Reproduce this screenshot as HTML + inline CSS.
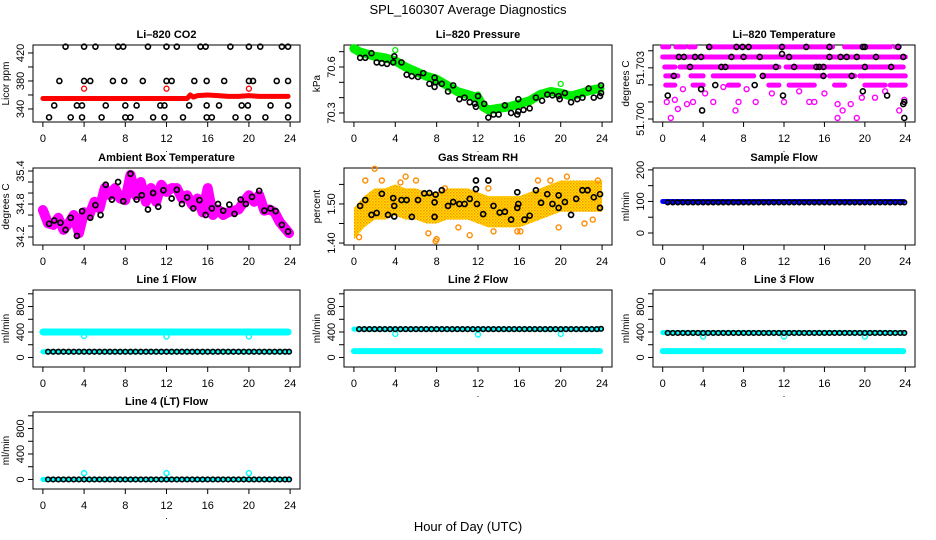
<!DOCTYPE html>
<html><head><meta charset="utf-8"><style>
html,body{margin:0;padding:0;background:#fff;}
svg{display:block;font-family:"Liberation Sans",sans-serif;}
</style></head><body>
<svg id="chart" width="936" height="540" viewBox="0 0 936 540">
<defs>
<pattern id="rhpat" width="3" height="3" patternUnits="userSpaceOnUse"><rect width="3" height="3" fill="#ffe000"/><rect width="1.5" height="1.5" fill="#ff9000"/><rect x="1.5" y="1.5" width="1.5" height="1.5" fill="#ffb000"/></pattern>
</defs>
<text x="468" y="14" text-anchor="middle" font-size="13">SPL_160307  Average Diagnostics</text>
<text x="468" y="531" text-anchor="middle" font-size="13">Hour of Day (UTC)</text>
</svg>
<script>
// ---------- data ----------
const xTicks = [0,4,8,12,16,20,24];
const flowH = [0.5,1,1.5,2,2.5,3,3.5,4,4.5,5,5.5,6,6.5,7,7.5,8,8.5,9,9.5,10,10.5,11,11.5,12,12.5,13,13.5,14,14.5,15,15.5,16,16.5,17,17.5,18,18.5,19,19.5,20,20.5,21,21.5,22,22.5,23,23.5,23.9];
const bandH = [0,2,4,6,8,10,12,14,16,18,20,22,23.8];

const co2BlackH = [2.2,4,5.1,7.3,7.8,10.2,12,13,15.3,15.8,18.2,20,21.1,23.2,23.8, 1.6,4,4.6,6.8,7.9,9.7,12,12.5,14.7,15.9,17.6,20,20.4,22.7,23.8, 1.1,3.3,3.8,6.1,8,9.1,11.4,11.8,14.2,15.9,17.1,19.3,19.9,22.1,23.8, 0.6,2.7,3.8,5.7,8,8.5,10.7,11.8,13.6,15.9,16.4,18.7,19.9,21.6,23.8];
const co2BlackV = [429,429,429,429,429,429,429,429,429,429,429,429,429,429,429, 380,380,380,380,380,380,380,380,380,380,380,380,380,380,380, 345,345,345,345,345,345,345,345,345,345,345,345,345,345,345, 328,328,328,328,328,328,328,328,328,328,328,328,328,328,328];
const co2RedH = [0,2,4,6,8,10,12,14,14.3,14.6,15,16,17,18,19,20,21,22,23,23.8];
const co2RedV = [355,355,355,355,355,355,355,355,360,357,359,360,359,358,358,359,358,358,358,358];
const co2RedOutH = [4,12,20];
const co2RedOutV = [369,369,369];

const presGreenH = [0,0.5,1,2,3,4,5,6,7,8,9,10,11,12,12.5,13,14,15,16,17,18,19,20,21,22,23,23.8];
const presGreenV = [70.72,70.70,70.69,70.67,70.66,70.64,70.60,70.57,70.54,70.52,70.48,70.44,70.42,70.40,70.34,70.32,70.33,70.34,70.36,70.38,70.42,70.44,70.43,70.41,70.43,70.45,70.46];
const presGreenOutH = [4,12,20];
const presGreenOutV = [70.71,70.42,70.49];
const presBlackH = [0.6,1.1,1.7,2.2,2.7,3.2,3.8,3.9,4.6,5.1,5.6,6.2,6.7,7.3,7.8,7.9,7.8,8.5,9.1,9.6,10.2,10.7,11.2,11.7,11.8,12,12.6,13,13.5,14,14.6,15.2,15.8,15.9,15.9,16.4,17,17.6,18.2,18.7,19.2,19.8,19.9,20.4,21,21.6,22.1,22.7,23.2,23.8,23.9,23.9];
const presBlackV = [70.66,70.66,70.69,70.63,70.625,70.62,70.63,70.67,70.63,70.55,70.54,70.535,70.56,70.49,70.47,70.50,70.53,70.49,70.44,70.48,70.39,70.40,70.37,70.36,70.34,70.41,70.36,70.27,70.29,70.29,70.35,70.30,70.29,70.31,70.39,70.32,70.33,70.40,70.38,70.42,70.415,70.41,70.39,70.43,70.37,70.39,70.40,70.46,70.40,70.41,70.48,70.43];

const tempRowV = [51.70338,51.70291,51.70244,51.70202,51.70159];
const tempRowStart = [[0,1.3,2.6,4.5,18,23],[0],[0.2,1.7,12.2],[0.3,2.8,5,10,16.5,19.5],[0.3,3,6.5,10.5,12.5,17,20,22.5]];
const tempRowEnd = [[0.6,2.2,3.2,16.8,22.5,23.4],[24],[1.2,11.5,23.8],[1.5,4,9,16,19,24],[1.2,4,7.5,11.5,15,18,22,24]];
const tempMagOutH = [0.4,1.2,1.5,0.8,2.4,3,4.2,5,7.2,7.5,8.3,9.2,10.8,12,14.5,15,17.3,17.3,17.8,18.6,19.2,19.7,21,23.4,23.9,2,6,13.5,16,22];
const tempMagOutV = [51.7008,51.7009,51.70047,51.70005,51.7007,51.7008,51.7012,51.7008,51.7004,51.7008,51.7014,51.7008,51.7012,51.7008,51.7008,51.7008,51.7007,51.70005,51.7004,51.7007,51.70005,51.701,51.701,51.7004,51.7009,51.7014,51.7015,51.7013,51.7012,51.7013];
const tempBlackH = [4.6,7.3,7.9,8.5,11.8,14.2,16.5,19.8,20,23.3, 1.6,2.1,3.2,3.8,6.8,8,9.6,11.8,12.5,16.5,17.6,18.2,19.2,21.1,23.8, 2.7,5.8,6.2,11.2,13,15.2,15.5,15.9,20,22.6, 1.1,9.9,15.9,18.7, 5.2,9.1, 3.8,19.8,0.5,11.9,22.2,23.9,23.8,3.9,23.9];
const tempBlackV = [51.70338,51.70338,51.70338,51.70338,51.70338,51.70338,51.70338,51.70338,51.70338,51.70338, 51.70291,51.70291,51.70291,51.70291,51.70291,51.70291,51.70291,51.70305,51.70291,51.70291,51.70291,51.70291,51.70291,51.70291,51.70291, 51.70244,51.70244,51.70244,51.70244,51.70244,51.70244,51.70244,51.70244,51.70244,51.70244, 51.70202,51.70202,51.70202,51.70202, 51.70159,51.70159, 51.7014,51.7013,51.7011,51.7011,51.7011,51.7008,51.7007,51.7004,51.70005];

const ambMagH = [0,0.5,1,1.5,2,2.5,3,3.5,4,4.5,5,5.5,6,6.5,7,7.5,8,8.5,9,9.5,10,10.5,11,11.5,12,12.5,13,13.5,14,14.5,15,15.5,16,16.5,17,17.5,18,18.5,19,19.5,20,20.5,21,21.5,22,22.5,23,23.5,23.9];
const ambMagV = [34.69,34.45,34.42,34.55,34.33,34.45,34.6,34.27,34.65,34.6,34.84,34.72,35.09,34.96,35.09,34.9,34.87,35.33,34.96,35.2,34.84,35.09,34.84,35.15,35.02,35.09,35.09,34.9,34.96,34.78,34.9,34.65,35.09,34.6,34.7,34.6,34.65,34.68,34.7,34.84,34.96,34.84,34.96,34.68,34.7,34.65,34.47,34.36,34.27];
const ambBlackH = [0.6,1.1,1.7,2.2,2.7,3.3,3.8,4.6,5.1,5.6,6.1,6.7,7.3,7.8,8.5,9.1,9.6,10.2,10.7,11.2,11.7,12.5,13,13.5,14,14.6,15.2,15.8,16.4,17,17.5,18.1,18.6,19.2,19.7,20.3,21,21.5,22.1,22.6,23.2,23.8];
const ambBlackV = [34.44,34.5,34.46,34.33,34.55,34.22,34.67,34.55,34.78,34.6,35.15,34.88,35.2,34.85,35.35,34.88,34.96,34.7,35.0,34.75,35.05,34.9,35.06,34.8,34.92,34.72,34.87,34.6,34.72,34.8,34.68,34.79,34.62,34.88,34.8,34.93,35.04,34.68,34.72,34.67,34.42,34.3];

const rhBandH = [0,1,2,3,4,5,6,7,8,9,10,11,12,13,14,15,16,17,18,19,20,21,22,23,24];
const rhBandV = [1.45,1.48,1.50,1.50,1.51,1.50,1.50,1.49,1.49,1.50,1.50,1.50,1.49,1.48,1.48,1.48,1.48,1.49,1.50,1.51,1.52,1.52,1.52,1.52,1.52];
const rhOutH = [0.5,1.1,2,2.7,4.5,5,6,7.2,7.9,8,8.8,10.1,11.2,13,13.5,15.8,16.1,17.8,19,19.8,20.6,22.3,23.1,23.6];
const rhOutV = [1.415,1.56,1.59,1.56,1.555,1.57,1.56,1.425,1.405,1.41,1.54,1.44,1.42,1.54,1.43,1.43,1.43,1.56,1.56,1.44,1.57,1.45,1.46,1.56];
const rhBlackH = [0.6,1.1,1.7,2.2,2.7,3.3,3.8,3.9,3.9,4.6,5.1,5.6,6.2,6.8,7.3,7.9,7.8,7.8,8.5,9.1,9.6,10.2,10.7,11.2,11.8,11.8,11.9,12.5,13,13.5,14.1,14.6,15.2,15.8,15.8,15.9,16.5,17,17.6,18.1,18.7,19.2,19.8,19.8,20.4,21,21.5,22.1,22.6,23.2,23.8,23.8];
const rhBlackV = [1.495,1.51,1.472,1.477,1.526,1.472,1.515,1.495,1.468,1.51,1.51,1.467,1.51,1.527,1.528,1.524,1.504,1.467,1.535,1.495,1.505,1.50,1.50,1.513,1.538,1.56,1.50,1.474,1.56,1.495,1.478,1.48,1.46,1.49,1.53,1.50,1.46,1.47,1.535,1.503,1.525,1.50,1.522,1.49,1.505,1.472,1.513,1.535,1.535,1.517,1.525,1.49];

const sampleBlueV = [100,100,100,100,100,100,100,100,100,100,100,100,100];
const sampleBlackV = [97,97,97,97,97,97,97,97,97,97,97,97,97,97,97,97,97,97,97,97,97,97,97,97,97,97,97,97,97,97,97,97,97,97,97,97,97,97,97,97,97,97,97,97,97,97,97,97];

const l1CyanHiV = [400,400,400,400,400,400,400,400,400,400,400,400,400];
const l1CyanLoV = [90,90,90,90,90,90,90,90,90,90,90,90,90];
const l1BlackV = [90,90,90,90,90,90,90,90,90,90,90,90,90,90,90,90,90,90,90,90,90,90,90,90,90,90,90,90,90,90,90,90,90,90,90,90,90,90,90,90,90,90,90,90,90,90,90,90];
const outH = [4,12,20];
const l1OutV = [340,330,330];

const l2CyanHiV = [445,445,445,445,445,445,445,445,445,445,445,445,445];
const l2CyanLoV = [100,100,100,100,100,100,100,100,100,100,100,100,100];
const l2BlackV = [445,445,445,445,445,445,445,445,445,445,445,445,445,445,445,445,445,445,445,445,445,445,445,445,445,445,445,445,445,445,445,445,445,445,445,445,445,445,445,445,445,445,445,445,445,445,445,450];
const l2OutV = [370,360,370];

const l3CyanHiV = [390,390,390,390,390,390,390,390,390,390,390,390,390];
const l3CyanLoV = [100,100,100,100,100,100,100,100,100,100,100,100,100];
const l3BlackV = [385,385,385,385,385,385,385,385,385,385,385,385,385,385,385,385,385,385,385,385,385,385,385,385,385,385,385,385,385,385,385,385,385,385,385,385,385,385,385,385,385,385,385,385,385,385,385,385];
const l3OutV = [330,330,330];

const l4CyanV = [0,0,0,0,0,0,0,0,0,0,0,0,0];
const l4BlackV = [0,0,0,0,0,0,0,0,0,0,0,0,0,0,0,0,0,0,0,0,0,0,0,0,0,0,0,0,0,0,0,0,0,0,0,0,0,0,0,0,0,0,0,0,0,0,0,0];
const l4OutV = [100,100,100];

// ---------- drawing ----------
const svg = document.getElementById('chart');
const NS = 'http://www.w3.org/2000/svg';
const colL = [33,344,653], colR = [300,612,915];
const rowT = [45,168,290,412], BH = 77;

function mk(tag, attrs, parent){
  const e = document.createElementNS(NS, tag);
  for (const k in attrs) e.setAttribute(k, attrs[k]);
  (parent||svg).appendChild(e);
  return e;
}

function panel(col,row,title,ytitle,ylim,yTicks,yLabels,name){
  const L=colL[col],R=colR[col],T=rowT[row],B=T+BH;
  const g = mk('g',{});
  
  
  const xs = h => L + (h+0.96)/25.92*(R-L);
  const ys = v => B - (v-ylim[0])/(ylim[1]-ylim[0])*BH;
  const t = mk('text',{x:(L+R)/2,y:T-7,'text-anchor':'middle','font-size':11,'font-weight':'bold'},g);
  t.textContent = title;
  
  
  const box = mk('rect',{x:L,y:T,width:R-L,height:BH,fill:'none',stroke:'#000','stroke-width':1},g);
  
  
  const xa = mk('g',{},g);
  
  
  mk('line',{x1:xs(xTicks[0]),x2:xs(xTicks[xTicks.length-1]),y1:B,y2:B,stroke:'#000'},xa);
  xTicks.forEach(v=>{
    mk('line',{x1:xs(v),x2:xs(v),y1:B,y2:B+5,stroke:'#000'},xa);
    const tx = mk('text',{x:xs(v),y:B+20,'text-anchor':'middle','font-size':11},xa);
    tx.textContent = v;
  });
  const dot = mk('text',{x:(L+R)/2,y:B+30,'text-anchor':'middle','font-size':9},g);
  dot.textContent='.';
  const ya = mk('g',{},g);
  
  
  mk('line',{x1:L,x2:L,y1:ys(yTicks[0]),y2:ys(yTicks[yTicks.length-1]),stroke:'#000'},ya);
  yTicks.forEach((v,i)=>{
    mk('line',{x1:L-5,x2:L,y1:ys(v),y2:ys(v),stroke:'#000'},ya);
    if (yLabels[i]!==''){
      const ty = mk('text',{x:L-9,y:ys(v),'text-anchor':'middle','font-size':11,transform:`rotate(-90 ${L-9} ${ys(v)})`},ya);
      ty.textContent = yLabels[i];
    }
  });
  const yt = mk('text',{x:L-24,y:(T+B)/2,'text-anchor':'middle','font-size':10,transform:`rotate(-90 ${L-24} ${(T+B)/2})`},g);
  yt.textContent = ytitle;
  
  
  const clip = mk('g',{},g);
  return {g:clip,xs,ys};
}

function band(p,H,V,color,w,name){
  const pts = H.map((h,i)=>p.xs(h)+','+p.ys(V[i])).join(' ');
  const pl = mk('polyline',{points:pts,fill:'none',stroke:color,'stroke-width':w,'stroke-linejoin':'round','stroke-linecap':'round'},p.g);
  
  
}
function pts(p,H,V,color,r,sw,name){
  const gg = mk('g',{},p.g);
  
  
  H.forEach((h,i)=>{
    mk('circle',{cx:p.xs(h),cy:p.ys(V[i]),r:r,fill:'none',stroke:color,'stroke-width':sw},gg);
  });
}

let p = panel(0,0,'Li\u2013820 CO2','Licor ppm',[321.4,431.4],[340,360,380,400,420],['340','','380','','420'],'co2');
band(p,co2RedH,co2RedV,'#ff0000',5,'co2-red-series');
pts(p,co2RedOutH,co2RedOutV,'#ff0000',2.5,1.3,'co2-red-outliers');
pts(p,co2BlackH,co2BlackV,'#000',2.5,1.6,'co2-black-points');

p = panel(1,0,'Li\u2013820 Pressure','kPa',[70.241,70.7435],[70.3,70.4,70.5,70.6,70.7],['70.3','','','70.6',''],'pressure');
band(p,presGreenH,presGreenV,'#00ee00',9,'pressure-green-series');
pts(p,presGreenOutH,presGreenOutV,'#00ee00',2.5,1.3,'pressure-green-outliers');
pts(p,presBlackH,presBlackV,'#000',2.5,1.6,'pressure-black-points');

p = panel(2,0,'Li\u2013820 Temperature','degrees C',[51.69986,51.70347],[51.7,51.7008,51.7016,51.7024,51.7032],['51.700','','','51.703',''],'li820-temp');
tempRowV.forEach((v,ri)=>{
  tempRowStart[ri].forEach((s,j)=>{
    band(p,[s,tempRowEnd[ri][j]],[v,v],'#ff00ff',5,'temp-magenta-row');
  });
});
pts(p,tempMagOutH,tempMagOutV,'#ff00ff',2.5,1.4,'temp-magenta-outliers');
pts(p,tempBlackH,tempBlackV,'#000',2.5,1.6,'temp-black-points');

p = panel(0,1,'Ambient Box Temperature','degrees C',[34.055,35.455],[34.2,34.4,34.6,34.8,35.0,35.2,35.4],['34.2','','','34.8','','','35.4'],'ambient');
band(p,ambMagH,ambMagV,'#ff00ff',10,'ambient-magenta-series');
pts(p,ambMagH,ambMagV,'#ff00ff',3,1.4,'ambient-magenta-points');
pts(p,ambBlackH,ambBlackV,'#000',2.5,1.7,'ambient-black-points');

p = panel(1,1,'Gas Stream RH','percent',[1.395,1.592],[1.40,1.45,1.50,1.55],['1.40','','1.50',''],'rh');
{
  const up = rhBandH.map((h,i)=>p.xs(h)+','+p.ys(rhBandV[i]+0.04));
  const dn = rhBandH.map((h,i)=>p.xs(h)+','+p.ys(rhBandV[i]-0.04)).reverse();
  const poly = mk('polygon',{points:up.concat(dn).join(' '),fill:'url(#rhpat)'},p.g);
  
  
}
pts(p,rhOutH,rhOutV,'#ff8c00',2.5,1.4,'rh-orange-outliers');
pts(p,rhBlackH,rhBlackV,'#000',2.5,1.7,'rh-black-points');

p = panel(2,1,'Sample Flow','ml/min',[-38,206],[0,50,100,150,200],['0','','100','','200'],'sample-flow');
band(p,bandH,sampleBlueV,'#0000ff',5,'sample-blue-series');
pts(p,flowH,sampleBlackV,'#000',2.3,1.6,'sample-black-points');

const flowTicks=[0,200,400,600,800,1000], flowLabels=['0','','400','','800',''];
p = panel(0,2,'Line 1 Flow','ml/min',[-150,1060],flowTicks,flowLabels,'line1');
band(p,bandH,l1CyanHiV,'#00ffff',7,'line1-cyan-high');
band(p,bandH,l1CyanLoV,'#00ffff',5,'line1-cyan-low');
pts(p,outH,l1OutV,'#00ffff',2.5,1.4,'line1-cyan-outliers');
pts(p,flowH,l1BlackV,'#000',2.3,1.6,'line1-black-points');
p = panel(1,2,'Line 2 Flow','ml/min',[-150,1060],flowTicks,flowLabels,'line2');
band(p,bandH,l2CyanLoV,'#00ffff',6,'line2-cyan-low');
band(p,bandH,l2CyanHiV,'#00ffff',5,'line2-cyan-high');
pts(p,outH,l2OutV,'#00ffff',2.5,1.4,'line2-cyan-outliers');
pts(p,flowH,l2BlackV,'#000',2.3,1.6,'line2-black-points');
p = panel(2,2,'Line 3 Flow','ml/min',[-150,1060],flowTicks,flowLabels,'line3');
band(p,bandH,l3CyanLoV,'#00ffff',6,'line3-cyan-low');
band(p,bandH,l3CyanHiV,'#00ffff',5,'line3-cyan-high');
pts(p,outH,l3OutV,'#00ffff',2.5,1.4,'line3-cyan-outliers');
pts(p,flowH,l3BlackV,'#000',2.3,1.6,'line3-black-points');
p = panel(0,3,'Line 4 (LT) Flow','ml/min',[-150,1060],flowTicks,flowLabels,'line4');
band(p,bandH,l4CyanV,'#00ffff',5,'line4-cyan-series');
pts(p,outH,l4OutV,'#00ffff',2.5,1.4,'line4-cyan-outliers');
pts(p,flowH,l4BlackV,'#000',2.3,1.6,'line4-black-points');
</script>
</body></html>
